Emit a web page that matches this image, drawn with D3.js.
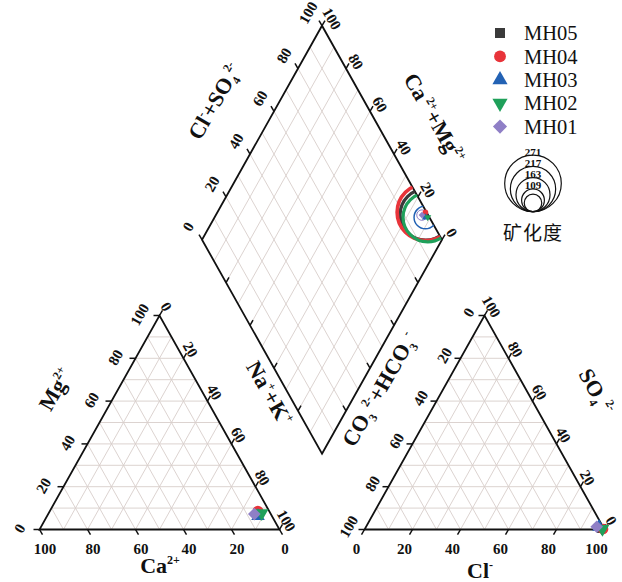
<!DOCTYPE html>
<html>
<head>
<meta charset="utf-8">
<script src="https://cdn.jsdelivr.net/npm/d3@7"></script>
<style>
  body { margin: 0; background: #fff; }
  svg { display: block; }
</style>
</head>
<body>
<svg width="622" height="582"></svg>
<script>
// sample data
const samples = ["MH05", "MH04", "MH03", "MH02", "MH01"];
const ca   = [5.0, 4.7, 5.8, 3.6, 6.9];
const mg   = [7.7, 8.6, 6.3, 7.6, 7.2];
const nak  = [87.3, 86.7, 87.9, 88.8, 85.9];
const hco3 = [1.0, 0.5, 1.7, 0.7, 2.6];
const so4  = [0.5, 0.2, 1.2, 0.3, 1.3];
const cl   = [98.5, 99.3, 97.1, 99.0, 96.1];
const tds  = [244, 271, 109, 236, 50];
const legendTds = [271, 217, 163, 109];
const legendInner = 84;
const ticks = [0, 20, 40, 60, 80, 100];

const colors = ["#3a3a3a", "#e8343a", "#2362b4", "#1fa05a", "#8f7fc6"];
const shapes = [
  { t: d3.symbolSquare, rot: 0, k: 1 },
  { t: d3.symbolCircle, rot: 0, k: 1.1 },
  { t: d3.symbolTriangle, rot: 0, k: 1 },
  { t: d3.symbolTriangle, rot: 180, k: 1 },
  { t: d3.symbolSquare, rot: 45, k: 1 }
];

const svg = d3.select("svg");
const H = 50 * Math.sqrt(3);
const gap = 35.42;
const ox = 100 + gap;

const X = d3.scaleLinear().domain([0, ox + 100]).range([39.5, 604.5]);
const Y = d3.scaleLinear().domain([0, H]).range([529.5, 315.5]);
const P = p => [X(p[0]), Y(p[1])];
const lerp = (a, b, t) => [a[0] + (b[0] - a[0]) * t, a[1] + (b[1] - a[1]) * t];
const rScale = d3.scaleLinear().domain([0, 271]).range([0, 28.3]);

// vertices
const A = [0, 0], B = [100, 0], C = [50, H];
const A2 = [ox, 0], B2 = [ox + 100, 0], C2 = [ox + 50, H];
const Bd = [100 + gap / 2, gap * H / 100];
const Ld = [Bd[0] - 50, Bd[1] + H], Td = [Bd[0], Bd[1] + 2 * H], Rd = [Bd[0] + 50, Bd[1] + H];

const serif = "'Liberation Serif', 'Times New Roman', serif";

// grid
const grid = [];
for (let i = 1; i < 10; i++) {
  const t = i / 10;
  [[A, B, C], [A2, B2, C2]].forEach(([a, b, c]) => {
    grid.push([lerp(a, c, t), lerp(b, c, t)]);
    grid.push([lerp(a, b, t), lerp(c, b, t)]);
    grid.push([lerp(b, a, t), lerp(c, a, t)]);
  });
  grid.push([lerp(Ld, Td, t), lerp(Bd, Rd, t)]);
  grid.push([lerp(Ld, Bd, t), lerp(Td, Rd, t)]);
}
svg.append("g")
  .attr("stroke", "#d8cecb")
  .attr("stroke-width", 0.9)
  .selectAll("line")
  .data(grid)
  .join("line")
  .attr("x1", d => P(d[0])[0]).attr("y1", d => P(d[0])[1])
  .attr("x2", d => P(d[1])[0]).attr("y2", d => P(d[1])[1]);

// outlines
const line = d3.line().x(d => P(d)[0]).y(d => P(d)[1]);
svg.append("g")
  .attr("fill", "none")
  .attr("stroke", "#111")
  .attr("stroke-width", 1.8)
  .attr("stroke-linejoin", "miter")
  .selectAll("path")
  .data([[A, B, C], [A2, B2, C2], [Bd, Rd, Td, Ld]])
  .join("path")
  .attr("d", d => line(d) + "Z");

// axis ticks + labels
function axis(vals, pt, tv, off, rot, labels = true) {
  const g = svg.append("g");
  vals.forEach(v => {
    const p = P(pt(v / 100));
    g.append("line")
      .attr("x1", p[0]).attr("y1", p[1])
      .attr("x2", p[0] + tv[0]).attr("y2", p[1] + tv[1])
      .attr("stroke", "#111").attr("stroke-width", 1.5);
    if (labels) {
      const lx = p[0] + off[0], ly = p[1] + off[1];
      g.append("text")
        .attr("transform", `translate(${lx},${ly}) rotate(${rot})`)
        .attr("text-anchor", "middle")
        .attr("dy", "0.35em")
        .attr("font-family", serif)
        .attr("font-weight", "bold")
        .attr("font-size", 15)
        .attr("fill", "#111")
        .text(v);
    }
  });
}
// left triangle
axis(ticks, t => lerp(B, A, t), [3, 5.2], [5.5, 19], 0);
axis(ticks, t => lerp(A, C, t), [-6, 0], [-20, -1], -60);
axis(ticks, t => lerp(C, B, t), [3, -5.2], [7, -9], 60);
// right triangle
axis(ticks, t => lerp(A2, B2, t), [-3, 5.2], [-8, 19], 0);
axis(ticks, t => lerp(C2, A2, t), [-6, 0], [-16, -3], -60);
axis(ticks, t => lerp(B2, C2, t), [3, -5.2], [7, -9], 60);
// diamond
axis(ticks, t => lerp(Ld, Td, t), [-3, -5.2], [-14, -13], -60);
axis(ticks, t => lerp(Rd, Td, t), [3, -5.2], [10, -7], 60);
axis([20, 40, 60, 80], t => lerp(Bd, Ld, t), [3, -5.2], [0, 0], 0, false);
axis([20, 40, 60, 80], t => lerp(Bd, Rd, t), [-3, -5.2], [0, 0], 0, false);

// axis titles
function title(x, y, rot, parts, anchor = "middle") {
  const t = svg.append("text")
    .attr("transform", `translate(${x},${y}) rotate(${rot})`)
    .attr("text-anchor", anchor)
    .attr("dy", rot === 0 ? 0 : "0.35em")
    .attr("font-family", serif)
    .attr("font-weight", "bold")
    .attr("font-size", 22)
    .attr("fill", "#111");
  let shift = 0;
  parts.forEach(([s, kind]) => {
    const target = kind === "sup" ? -9 : kind === "sub" ? 5 : 0;
    t.append("tspan")
      .attr("dy", target - shift)
      .attr("font-size", kind ? 12 : 22)
      .text(s);
    shift = target;
  });
}
title(221, 105, -60, [["Cl"], ["-", "sup"], ["+SO"], ["4", "sub"], ["2-", "sup"]]);
title(428, 122, 60, [["Ca"], [" 2+", "sup"], ["+Mg"], ["2+", "sup"]]);
title(62, 393, -60, [["Mg"], ["2+", "sup"]]);
title(263, 397, 60, [["Na"], ["+", "sup"], ["+K"], ["+", "sup"]]);
title(160, 573, 0, [["Ca"], ["2+", "sup"]]);
title(386, 393, -60, [["CO"], ["3", "sub"], [" 2-", "sup"], ["+HCO"], ["3", "sub"], [" -", "sup"]]);
title(590, 395, 60, [["SO"], ["4", "sub"], [" 2-", "sup"]]);
title(480, 578, 0, [["Cl"], ["-", "sup"]]);

// projected points
const idx = d3.range(samples.length);
const leftPt = i => [nak[i] + mg[i] / 2, mg[i] * H / 100];
const rightPt = i => [ox + cl[i] + so4[i] / 2, so4[i] * H / 100];
const diaPt = i => {
  const a = (100 - hco3[i]) / 100, n = nak[i] / 100;
  return [Ld[0] + a * (Td[0] - Ld[0]) + n * (Bd[0] - Ld[0]),
          Ld[1] + a * (Td[1] - Ld[1]) + n * (Bd[1] - Ld[1])];
};

function marker(g, i, x, y, size) {
  const s = shapes[i];
  g.append("path")
    .attr("d", d3.symbol().type(s.t).size(size * s.k)())
    .attr("transform", `translate(${x},${y}) rotate(${s.rot})`)
    .attr("fill", colors[i]);
}

// circles in diamond (clipped)
svg.append("clipPath").attr("id", "dclip")
  .append("path").attr("d", line([Bd, Rd, Td, Ld]) + "Z");
const circ = svg.append("g").attr("clip-path", "url(#dclip)");
idx.forEach(i => {
  const p = P(diaPt(i));
  const r = rScale(tds[i]);
  circ.append("circle")
    .attr("cx", p[0]).attr("cy", p[1]).attr("r", r)
    .attr("fill", "none")
    .attr("stroke", colors[i])
    .attr("stroke-width", Math.max(1, r * 0.13));
});
const mk = svg.append("g");
idx.forEach(i => {
  const p = P(diaPt(i));
  marker(mk, i, p[0], p[1], 22);
});
idx.forEach(i => {
  const p = P(leftPt(i));
  marker(mk, i, p[0], p[1], 80);
  const q = P(rightPt(i));
  marker(mk, i, q[0], q[1], 80);
});

// legend
const leg = svg.append("g");
samples.forEach((s, i) => {
  const y = 33 + i * 23.4;
  marker(leg, i, 500, y, 100);
  leg.append("text")
    .attr("x", 524).attr("y", y).attr("dy", "0.35em")
    .attr("font-family", serif)
    .attr("font-size", 20.5)
    .attr("fill", "#111")
    .text(s);
});
const cx = 533, cb = 211.7;
[...legendTds, legendInner].forEach((v, i) => {
  const r = rScale(v);
  leg.append("circle")
    .attr("cx", cx).attr("cy", cb - r).attr("r", r)
    .attr("fill", "none").attr("stroke", "#111").attr("stroke-width", 1.2);
  if (i < legendTds.length) {
    leg.append("text")
      .attr("x", cx).attr("y", cb - 2 * r + 0.5)
      .attr("text-anchor", "middle")
      .attr("font-family", serif)
      .attr("font-weight", "bold")
      .attr("font-size", 11)
      .attr("fill", "#111")
      .text(v);
  }
});
leg.append("text")
  .attr("x", cx).attr("y", 240)
  .attr("text-anchor", "middle")
  .attr("font-family", "'Noto Sans CJK SC', sans-serif")
  .attr("font-size", 19)
  .attr("letter-spacing", 1)
  .attr("fill", "#111")
  .text("矿化度");
</script>
</body>
</html>
